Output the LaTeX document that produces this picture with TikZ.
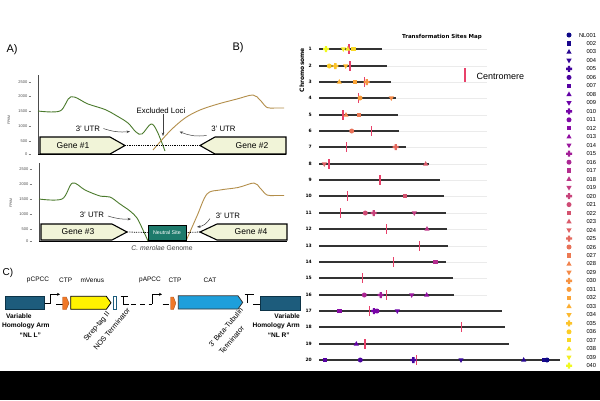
\documentclass[tikz,border=0pt]{standalone}
\usepackage{fontspec}
\setmainfont{Liberation Sans}
\newfontfamily\dejavu{DejaVu Sans}
\usetikzlibrary{arrows.meta,calc}
\newcommand\myfs[1]{\fontsize{#1}{#1}\selectfont}
\definecolor{p0}{HTML}{0D0887}
\definecolor{p1}{HTML}{41049D}
\definecolor{p2}{HTML}{6A00A8}
\definecolor{p3}{HTML}{8F0DA4}
\definecolor{p4}{HTML}{B12A90}
\definecolor{p5}{HTML}{CC4778}
\definecolor{p6}{HTML}{E16462}
\definecolor{p7}{HTML}{F2844B}
\definecolor{p8}{HTML}{FCA636}
\definecolor{p9}{HTML}{FCCE25}
\definecolor{p10}{HTML}{F0F921}
\definecolor{genefill}{HTML}{F1F4D8}
\definecolor{greencurve}{HTML}{4A7A2C}
\definecolor{browncurve}{HTML}{B38E4A}
\definecolor{neutral}{HTML}{1D7A6B}
\definecolor{armfill}{HTML}{1D5C7C}
\definecolor{armline}{HTML}{0C3347}
\definecolor{ctp}{HTML}{F07828}
\definecolor{catblue}{HTML}{1E9FDB}
\definecolor{centro}{HTML}{E8416A}
\newcommand\plasmacol[1]{%
 \pgfmathsetmacro\pT{(#1-1)/39*10}%
 \pgfmathtruncatemacro\pS{min(floor(\pT),9)}%
 \pgfmathtruncatemacro\pSn{\pS+1}%
 \pgfmathsetmacro\pF{(\pT-\pS)*100}%
 \colorlet{pc}{p\pSn!\pF!p\pS}}
\newcommand\mymark[3]{%
 \plasmacol{#1}%
 \pgfmathtruncatemacro\pK{mod(#1-1,5)}%
 \ifcase\pK\relax
  \fill[pc] (#2,#3) circle[radius=2.5pt];
 \or
  \fill[pc,shift={(#2,#3)}] (-2.2,-2.2) rectangle (2.2,2.2);
 \or
  \fill[pc,shift={(#2,#3)}] (0,-2.9) -- (2.6,1.7) -- (-2.6,1.7) -- cycle;
 \or
  \fill[pc,shift={(#2,#3)}] (0,2.9) -- (2.6,-1.7) -- (-2.6,-1.7) -- cycle;
 \or
  \fill[pc,shift={(#2,#3)}] (-1.2,-3)--(1.2,-3)--(1.2,-1.2)--(3,-1.2)--(3,1.2)--(1.2,1.2)--(1.2,3)--(-1.2,3)--(-1.2,1.2)--(-3,1.2)--(-3,-1.2)--(-1.2,-1.2)--cycle;
 \fi}
\begin{document}
\begin{tikzpicture}[x=1pt,y=-1pt,
  lbl/.style={inner sep=0pt,outer sep=0pt},
  tick/.style={inner sep=0pt,anchor=east,font=\myfs{4},text=black!70},
  genebox/.style={draw=black,line width=1.1pt,fill=genefill,line join=miter},
  genetxt/.style={inner sep=0pt,font=\myfs{8.5}},
  utr/.style={inner sep=0pt,font=\myfs{7.8}},
  utrarrow/.style={-{Stealth[length=3.5pt,width=2.6pt]},line width=0.5pt,black!75},
  dotline/.style={densely dotted,line width=0.8pt},
  gcurve/.style={greencurve,line width=0.9pt},
  bcurve/.style={browncurve,line width=0.9pt},
  chrline/.style={black!80,line width=1.6pt},
  numlbl/.style={inner sep=0pt,font=\dejavu\bfseries\myfs{4.5}},
  cmark/.style={centro,line width=1.2pt},
  clbl/.style={inner sep=0pt,font=\myfs{6.5}},
  rotlbl/.style={inner sep=0pt,font=\myfs{7.3},rotate=50},
  armtxt/.style={inner sep=0pt,font=\bfseries\myfs{6.6}},
  cline/.style={line width=0.8pt,black},
  prom/.style={line width=0.8pt,black,-{Stealth[length=3pt,width=3pt]}},
]
\useasboundingbox (0,0) rectangle (600,400);
\fill[white] (0,0) rectangle (600,400);
\fill[black] (0,371) rectangle (600,400);

% ---------------- Panel A ----------------
\node[lbl,font=\myfs{11}] (labA) at (12,50) {A)};
\node[lbl,font=\myfs{11}] (labB) at (238,48) {B)};

% top plot axes
\draw[black!70,line width=0.7pt] (38,75) -- (38,154);
\foreach \v/\yy in {2500/82,2000/96.5,1500/111,1000/126,500/141.5,0/154}{
  \node[tick] (ta\v) at (27.5,\yy) {\v};
  \draw[black!50,line width=0.3pt] (28.5,\yy) -- (30.5,\yy);
}
\node[lbl,font=\myfs{3.5},rotate=90,text=black!70] (fpkmA) at (9,120) {FPKM};
% curves top
\draw[gcurve] plot[smooth,tension=0.55] coordinates {(38,111) (60,111) (71,96.7) (88,104) (105,109.5) (117,116) (128,123) (136,132) (142,134) (151,124) (157,131) (165,151)};
\draw[bcurve] plot[smooth,tension=0.55] coordinates {(153,150) (170,131) (185,118) (200,110) (218,104) (237,99) (253,95) (260,100) (267,107.5) (275,108) (284,108)};
% genes top
\draw[genebox] (40,137) -- (110,137) -- (125,145.5) -- (110,154) -- (40,154) -- cycle;
\coordinate (g1tip) at (125,145.5);
\node[genetxt] (gene1) at (73,145.5) {Gene \#1};
\draw[genebox] (286,137) -- (215,137) -- (200,145.5) -- (215,154) -- (286,154) -- cycle;
\coordinate (g2tip) at (200,145.5);
\node[genetxt] (gene2) at (252,145.5) {Gene \#2};
\draw[dotline] (g1tip) -- (g2tip);
\draw[black,line width=0.9pt] (38,154.3) -- (286,154.3);
% labels top
\node[utr] (excl) at (161,111) {Excluded Loci};
\coordinate (exclend) at (163,136);
\draw[utrarrow] (excl.south -| exclend) -- (exclend);
\node[utr] (utr1) at (88,128.5) {3' UTR};
\coordinate (utr1end) at (130,131.5);
\draw[utrarrow] (utr1.east) ++(3,0) to[bend right=12] (utr1end);
\node[utr] (utr2) at (223.5,128.5) {3' UTR};
\coordinate (utr2end) at (179.5,131.5);
\draw[utrarrow] (206.5,135.5) to[bend left=15] (utr2end);

% bottom plot
\draw[black!70,line width=0.7pt] (39,163) -- (39,241);
\foreach \v/\yy in {2500/169,2000/183.7,1500/199,1000/214,500/229,0/241}{
  \node[tick] (tb\v) at (28.5,\yy) {\v};
  \draw[black!50,line width=0.3pt] (29.5,\yy) -- (31.5,\yy);
}
\node[lbl,font=\myfs{3.5},rotate=90,text=black!70] (fpkmB) at (11,203) {FPKM};
\draw[gcurve] plot[smooth,tension=0.55] coordinates {(39,199) (62,199) (72.5,183) (85,190) (100,196) (110,197) (120,204) (130,211) (137,218) (143,230) (148,241)};
\draw[bcurve] plot[smooth,tension=0.55] coordinates {(186,241) (197,216) (207,194) (220,190) (238,187.5) (254,183) (260,188) (267,195) (275,195.5) (284,195.5)};
\draw[genebox] (41,224) -- (112,224) -- (127,232) -- (112,240) -- (41,240) -- cycle;
\coordinate (g3tip) at (127,232);
\node[genetxt] (gene3) at (78,232) {Gene \#3};
\draw[genebox] (287,224) -- (217,224) -- (200,232) -- (217,240) -- (287,240) -- cycle;
\coordinate (g4tip) at (200,232);
\node[genetxt] (gene4) at (251,232) {Gene \#4};
\node[draw=black,line width=0.9pt,fill=neutral,text=white,font=\myfs{5.3},minimum width=38pt,minimum height=15pt,inner sep=0pt] (ns) at (167,232.5) {Neutral Site};
\draw[dotline] (g3tip) -- (ns.west);
\draw[dotline] (ns.east) -- (g4tip);
\draw[black,line width=0.9pt] (39,241) -- (287,241);
\node[lbl,font=\myfs{6.8},text=black!75] (genome) at (162,248.5) {\textit{C. merolae} Genome};
\node[utr] (utr3) at (92,215) {3' UTR};
\coordinate (utr3end) at (131,219);
\draw[utrarrow] (108,216) to[bend right=10] (utr3end);
\node[utr] (utr4) at (228,216) {3' UTR};
\coordinate (utr4end) at (197,227);
\draw[utrarrow] (210,218.5) to[bend left=25] (utr4end);

% ---------------- Panel B ----------------
\node[lbl,font=\dejavu\bfseries\myfs{5.5}] (title) at (442,37) {Transformation Sites Map};
\node[lbl,font=\dejavu\bfseries\myfs{6},rotate=90] (chromo) at (302,70) {Chromosome};
\foreach \r/\e/\c in {1/381.7/349,2/387/350,3/390.7/364.3,4/395.7/358.3,5/398/343,6/399/371.3,7/406/346.3,8/429/329,9/440/380,10/444/347.7,11/446/340.3,12/446.7/386.7,13/448/419.3,14/445.7/393.3,15/453/362.7,16/454/386.7,17/501.7/369.7,18/505/461.7,19/509/365,20/560/416.3}{
  \pgfmathsetmacro\yy{round(49.3+(\r-1)*16.35)}
  \draw[black!8,line width=0.6pt] (319,\yy) -- (487,\yy);
  \draw[chrline] (319,\yy) -- (\e,\yy);
  \node[numlbl,anchor=east] (n\r) at (312,\yy) {\r};
  \draw[cmark] (\c,\yy-5) -- (\c,\yy+5);
}
\foreach \k/\x/\r in {40/326/1,39/343.3/1,38/347.7/1,37/353.3/1,
  36/329.3/2,35/335.3/2,34/345.7/2,
  33/339.3/3,32/355/3,30/366.7/3,
  31/360/4,29/391.3/4,
  28/346/5,27/358.7/5,
  26/351.7/6,
  25/395.7/7,
  24/324.3/8,23/425.7/8,
  22/404.7/10,
  21/365.3/11,20/373.7/11,19/414.3/11,
  18/427/12,
  17/435.3/14,
  16/364.3/16,15/380.7/16,14/411.7/16,13/426.7/16,
  12/339.3/17,11/377/17,10/374/17,9/397.3/17,
  8/356.3/19,
  7/325/20,6/360.3/20,5/413.3/20,4/461/20,3/523.7/20,2/544/20,1/547/20}{
  \pgfmathsetmacro\yy{round(49.3+(\r-1)*16.35)}
  \mymark{\k}{\x}{\yy}
}
% centromere legend
\draw[cmark] (465,68) -- (465,82);
\node[lbl,font=\myfs{9},anchor=west] (centrolbl) at (476.5,76.5) {Centromere};
% legend
\foreach \k in {1,...,40}{
  \pgfmathsetmacro\ly{35+(\k-1)*8.48}
  \mymark{\k}{569}{\ly}
  \ifnum\k=1
    \node[lbl,font=\myfs{5.8},anchor=west] (leg\k) at (579,\ly) {NL001};
  \else
    \node[lbl,font=\myfs{5.8},anchor=west] (leg\k) at (586.5,\ly) {\ifnum\k<10 00\k\else 0\k\fi};
  \fi
}

% ---------------- Panel C ----------------
\node[lbl,font=\myfs{10}] (labC) at (8,273) {C)};
\node[clbl] (pcpcc) at (38,280) {pCPCC};
\node[clbl] (ctp1l) at (65.7,280) {CTP};
\node[clbl] (mven) at (92.3,280) {mVenus};
\node[clbl] (papcc) at (150,280) {pAPCC};
\node[clbl] (ctp2l) at (175,280) {CTP};
\node[clbl] (catl) at (210,280) {CAT};

\node[draw=armline,line width=0.8pt,fill=armfill,minimum width=39pt,minimum height=12.6pt,inner sep=0pt] (armL) at (24.7,303) {};
\node[draw=armline,line width=0.8pt,fill=armfill,minimum width=40pt,minimum height=14pt,inner sep=0pt] (armR) at (280,303) {};
% promoter 1
\coordinate (p1b) at (50,303.5);
\draw[cline] (armL.east |- p1b) -- (p1b);
\draw[prom] (p1b) -- (50,294.3) -- (60,294.3);
\draw[cline] (56,304) -- (62.7,304);
% CTP 1
\draw[fill=ctp,draw=ctp!70!black,line width=0.4pt] (62.7,297) -- (66.3,297) -- (69,303.2) -- (66.3,309.5) -- (62.7,309.5) -- cycle;
% mVenus
\draw[fill=yellow,draw=black,line width=0.8pt] (70.7,296.3) -- (106.3,296.3) -- (111,302.8) -- (106.3,309.3) -- (70.7,309.3) -- cycle;
% Strep tag
\draw[fill=white,draw=armfill,line width=0.7pt] (113.3,296.5) rectangle (116.5,309.5);
% NOS terminator
\draw[cline] (120.5,296) -- (128.3,296);
\draw[cline] (123.8,296) -- (123.8,304) -- (128.5,304);
\draw[cline,dash pattern=on 5pt off 4pt] (131,304) -- (149,304);
% promoter 2
\coordinate (p2b) at (152.3,304);
\draw[cline] (148.5,304) -- (p2b);
\draw[prom] (p2b) -- (152.3,294.3) -- (162,294.3);
\draw[cline] (162.7,304) -- (169.3,304);
% CTP 2
\draw[fill=ctp,draw=ctp!70!black,line width=0.4pt] (170.7,297) -- (173.5,297) -- (175.8,303.2) -- (173.5,309.5) -- (170.7,309.5) -- cycle;
% CAT
\draw[fill=catblue,draw=black!80,line width=0.8pt] (178.3,295.8) -- (238,295.8) -- (242.7,302.4) -- (238,309) -- (178.3,309) -- cycle;
% terminator 2
\draw[cline] (244.7,294.5) -- (254,294.5);
\draw[cline] (247.5,294.5) -- (247.5,303) ;
\draw[cline] (253.3,304.3) -- (armR.west |- 0,304.3);

% arm texts
\node[armtxt,anchor=west] (vl1) at (6,316) {Variable};
\node[armtxt,anchor=west] (vl2) at (2,325.7) {Homology Arm};
\node[armtxt,anchor=west] (vl3) at (19.5,335) {“NL L”};
\node[armtxt,anchor=east] (vr1) at (300,316) {Variable};
\node[armtxt,anchor=east] (vr2) at (300,325.7) {Homology Arm};
\node[armtxt,anchor=east] (vr3) at (290,335) {“NL R”};
% rotated labels
\node[rotlbl] (strep) at (97,327) {Strep-tag II};
\node[rotlbl] (nos) at (111.7,329.2) {NOS Terminator};
\node[rotlbl] (beta) at (225.8,327.5) {3' Beta-Tubulin};
\node[rotlbl] (term) at (231.5,340) {Terminator};
\end{tikzpicture}
\end{document}
